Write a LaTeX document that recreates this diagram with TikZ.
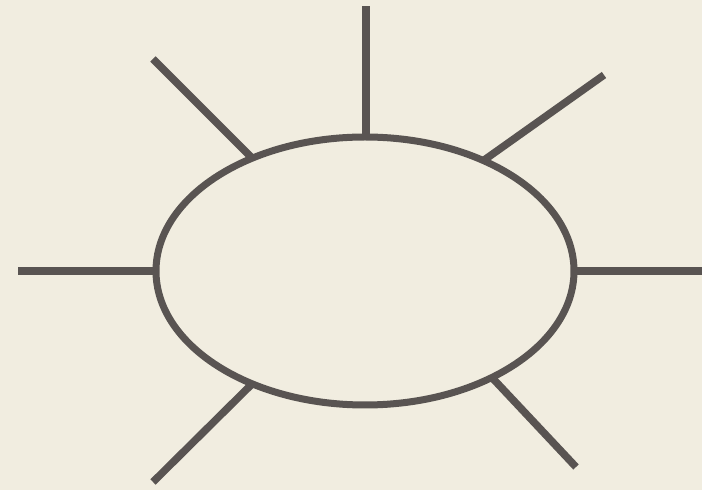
\documentclass[tikz,border=0pt]{standalone}
\usetikzlibrary{shapes.geometric}
\definecolor{bgc}{HTML}{F1EDE0}
\definecolor{inkc}{HTML}{595452}
\begin{document}
\begin{tikzpicture}[x=1pt,y=1pt,
  spoke/.style={draw=inkc,line width=7.5pt},
  ring/.style={ellipse,draw=inkc,line width=7pt,minimum width=418pt,minimum height=268pt,inner sep=0pt,outer sep=0pt}]
\fill[bgc] (0,0) rectangle (702,490);
\useasboundingbox (0,0) rectangle (702,490);
\node[ring] (e) at (365,219) {};
\coordinate (t) at (366,484);
\coordinate (l) at (18,219);
\coordinate (r) at (702,219);
\coordinate (ul) at (153,431);
\coordinate (ur) at (604,415);
\coordinate (ll) at (153,8);
\coordinate (lr) at (576,23);
\draw[spoke] (t |- e.north) -- (t);
\draw[spoke] (e.west) -- (l);
\draw[spoke] (e.east) -- (r);
\draw[spoke] (e.135.5) -- (ul);
\draw[spoke] (e.43) -- (ur);
\draw[spoke] (e.-135) -- (ll);
\draw[spoke] (e.-40.7) -- (lr);
\end{tikzpicture}
\end{document}
